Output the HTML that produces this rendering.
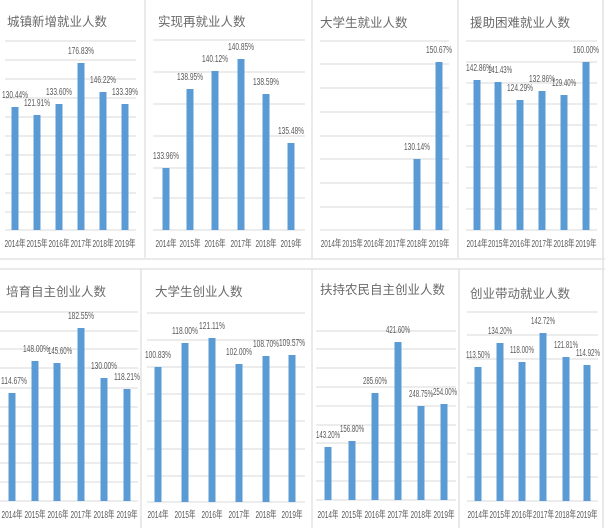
<!DOCTYPE html>
<html><head><meta charset="utf-8"><style>
html,body{margin:0;padding:0;background:#fff;}
svg{display:block;}
text{font-family:"Liberation Sans","Noto Sans CJK SC",sans-serif;fill:#595959;}
.t{font-size:12.5px;fill:#6a6a6a;}
.v{font-size:10px;text-anchor:middle;}
.y{font-size:10px;text-anchor:middle;}
.g line{stroke:#d9d9d9;stroke-width:1;}
.b rect{fill:#5b9bd5;}
.bd{stroke:#e3e3e3;stroke-width:1.5;}
</style></head><body>
<svg width="605" height="528" viewBox="0 0 605 528" xmlns="http://www.w3.org/2000/svg">
<line class="bd" x1="145" y1="0" x2="145" y2="258"/>
<line class="bd" x1="312" y1="0" x2="312" y2="258"/>
<line class="bd" x1="458" y1="0" x2="458" y2="258"/>
<line class="bd" x1="0" y1="259" x2="605" y2="259"/>
<line class="bd" x1="0" y1="269" x2="605" y2="269"/>
<line class="bd" x1="141" y1="269" x2="141" y2="528"/>
<line class="bd" x1="312" y1="269" x2="312" y2="528"/>
<line class="bd" x1="459" y1="269" x2="459" y2="528"/>
<line class="bd" x1="603" y1="0" x2="603" y2="528"/>

<!-- Panel 1 -->
<text class="t" x="7" y="26">城镇新增就业人数</text>
<g class="g">
<line x1="5" x2="136" y1="41" y2="41"/><line x1="5" x2="136" y1="60" y2="60"/><line x1="5" x2="136" y1="79" y2="79"/><line x1="5" x2="136" y1="98" y2="98"/><line x1="5" x2="136" y1="117" y2="117"/><line x1="5" x2="136" y1="136" y2="136"/><line x1="5" x2="136" y1="155" y2="155"/><line x1="5" x2="136" y1="174" y2="174"/><line x1="5" x2="136" y1="193" y2="193"/><line x1="5" x2="136" y1="212" y2="212"/><line x1="5" x2="136" y1="230" y2="230"/>
</g>
<g class="b">
<rect x="11.5" y="107" width="7" height="123"/><rect x="33.5" y="115" width="7" height="115"/><rect x="55.5" y="104" width="7" height="126"/><rect x="77.5" y="63" width="7" height="167"/><rect x="99.5" y="92" width="7" height="138"/><rect x="121.5" y="104" width="7" height="126"/>
</g>
<text class="v" x="15" y="98" textLength="26" lengthAdjust="spacingAndGlyphs">130.44%</text>
<text class="v" x="37" y="106" textLength="26" lengthAdjust="spacingAndGlyphs">121.91%</text>
<text class="v" x="59" y="95" textLength="26" lengthAdjust="spacingAndGlyphs">133.60%</text>
<text class="v" x="81" y="54" textLength="26" lengthAdjust="spacingAndGlyphs">176.83%</text>
<text class="v" x="103" y="83" textLength="26" lengthAdjust="spacingAndGlyphs">146.22%</text>
<text class="v" x="125" y="95" textLength="26" lengthAdjust="spacingAndGlyphs">133.39%</text>
<text class="y" x="15" y="247" textLength="21" lengthAdjust="spacingAndGlyphs">2014年</text>
<text class="y" x="37" y="247" textLength="21" lengthAdjust="spacingAndGlyphs">2015年</text>
<text class="y" x="59" y="247" textLength="21" lengthAdjust="spacingAndGlyphs">2016年</text>
<text class="y" x="81" y="247" textLength="21" lengthAdjust="spacingAndGlyphs">2017年</text>
<text class="y" x="103" y="247" textLength="21" lengthAdjust="spacingAndGlyphs">2018年</text>
<text class="y" x="125" y="247" textLength="21" lengthAdjust="spacingAndGlyphs">2019年</text>

<!-- Panel 2 -->
<text class="t" x="158" y="26">实现再就业人数</text>
<g class="g">
<line x1="153" x2="305" y1="40" y2="40"/><line x1="153" x2="305" y1="72" y2="72"/><line x1="153" x2="305" y1="104" y2="104"/><line x1="153" x2="305" y1="136" y2="136"/><line x1="153" x2="305" y1="168" y2="168"/><line x1="153" x2="305" y1="198" y2="198"/><line x1="153" x2="305" y1="230" y2="230"/>
</g>
<g class="b">
<rect x="162.5" y="168" width="7" height="62"/><rect x="186.5" y="89" width="7" height="141"/><rect x="211.5" y="71" width="7" height="159"/><rect x="237.5" y="59" width="7" height="171"/><rect x="262.5" y="94" width="7" height="136"/><rect x="287.5" y="143" width="7" height="87"/>
</g>
<text class="v" x="166" y="159" textLength="26" lengthAdjust="spacingAndGlyphs">133.96%</text>
<text class="v" x="190" y="80" textLength="26" lengthAdjust="spacingAndGlyphs">138.95%</text>
<text class="v" x="215" y="62" textLength="26" lengthAdjust="spacingAndGlyphs">140.12%</text>
<text class="v" x="241" y="50" textLength="26" lengthAdjust="spacingAndGlyphs">140.85%</text>
<text class="v" x="266" y="85" textLength="26" lengthAdjust="spacingAndGlyphs">138.59%</text>
<text class="v" x="291" y="134" textLength="26" lengthAdjust="spacingAndGlyphs">135.48%</text>
<text class="y" x="166" y="247" textLength="21" lengthAdjust="spacingAndGlyphs">2014年</text>
<text class="y" x="190" y="247" textLength="21" lengthAdjust="spacingAndGlyphs">2015年</text>
<text class="y" x="215" y="247" textLength="21" lengthAdjust="spacingAndGlyphs">2016年</text>
<text class="y" x="241" y="247" textLength="21" lengthAdjust="spacingAndGlyphs">2017年</text>
<text class="y" x="266" y="247" textLength="21" lengthAdjust="spacingAndGlyphs">2018年</text>
<text class="y" x="291" y="247" textLength="21" lengthAdjust="spacingAndGlyphs">2019年</text>

<!-- Panel 3 -->
<text class="t" x="320" y="27">大学生就业人数</text>
<g class="g">
<line x1="320" x2="449" y1="41" y2="41"/><line x1="320" x2="449" y1="64" y2="64"/><line x1="320" x2="449" y1="88" y2="88"/><line x1="320" x2="449" y1="112" y2="112"/><line x1="320" x2="449" y1="136" y2="136"/><line x1="320" x2="449" y1="159" y2="159"/><line x1="320" x2="449" y1="183" y2="183"/><line x1="320" x2="449" y1="207" y2="207"/><line x1="320" x2="449" y1="230" y2="230"/>
</g>
<g class="b">
<rect x="413.5" y="159" width="7" height="71"/><rect x="435.5" y="62" width="7" height="168"/>
</g>
<text class="v" x="417" y="150" textLength="26" lengthAdjust="spacingAndGlyphs">130.14%</text>
<text class="v" x="439" y="53" textLength="26" lengthAdjust="spacingAndGlyphs">150.67%</text>
<text class="y" x="331" y="247" textLength="20.5" lengthAdjust="spacingAndGlyphs">2014年</text>
<text class="y" x="352.5" y="247" textLength="20.5" lengthAdjust="spacingAndGlyphs">2015年</text>
<text class="y" x="374" y="247" textLength="20.5" lengthAdjust="spacingAndGlyphs">2016年</text>
<text class="y" x="395.5" y="247" textLength="20.5" lengthAdjust="spacingAndGlyphs">2017年</text>
<text class="y" x="417" y="247" textLength="20.5" lengthAdjust="spacingAndGlyphs">2018年</text>
<text class="y" x="439" y="247" textLength="20.5" lengthAdjust="spacingAndGlyphs">2019年</text>

<!-- Panel 4 -->
<text class="t" x="470" y="27">援助困难就业人数</text>
<g class="g">
<line x1="466" x2="597" y1="41" y2="41"/><line x1="466" x2="597" y1="62" y2="62"/><line x1="466" x2="597" y1="83" y2="83"/><line x1="466" x2="597" y1="104" y2="104"/><line x1="466" x2="597" y1="125" y2="125"/><line x1="466" x2="597" y1="146" y2="146"/><line x1="466" x2="597" y1="167" y2="167"/><line x1="466" x2="597" y1="188" y2="188"/><line x1="466" x2="597" y1="209" y2="209"/><line x1="466" x2="597" y1="230" y2="230"/>
</g>
<g class="b">
<rect x="473.5" y="80" width="7" height="150"/><rect x="494.5" y="82" width="7" height="148"/><rect x="516.5" y="100" width="7" height="130"/><rect x="538.5" y="91" width="7" height="139"/><rect x="560.5" y="95" width="7" height="135"/><rect x="582.5" y="62" width="7" height="168"/>
</g>
<text class="v" x="479" y="71" textLength="26" lengthAdjust="spacingAndGlyphs">142.86%</text>
<text class="v" x="500" y="73" textLength="24" lengthAdjust="spacingAndGlyphs">141.43%</text>
<text class="v" x="520" y="91" textLength="26" lengthAdjust="spacingAndGlyphs">124.29%</text>
<text class="v" x="542" y="82" textLength="26" lengthAdjust="spacingAndGlyphs">132.86%</text>
<text class="v" x="564" y="86" textLength="24" lengthAdjust="spacingAndGlyphs">129.40%</text>
<text class="v" x="586" y="53" textLength="26" lengthAdjust="spacingAndGlyphs">160.00%</text>
<text class="y" x="477" y="247" textLength="21" lengthAdjust="spacingAndGlyphs">2014年</text>
<text class="y" x="498.5" y="247" textLength="21" lengthAdjust="spacingAndGlyphs">2015年</text>
<text class="y" x="520" y="247" textLength="21" lengthAdjust="spacingAndGlyphs">2016年</text>
<text class="y" x="542" y="247" textLength="21" lengthAdjust="spacingAndGlyphs">2017年</text>
<text class="y" x="564" y="247" textLength="21" lengthAdjust="spacingAndGlyphs">2018年</text>
<text class="y" x="586" y="247" textLength="21" lengthAdjust="spacingAndGlyphs">2019年</text>

<!-- Panel 5 -->
<text class="t" x="6" y="296">培育自主创业人数</text>
<g class="g">
<line x1="0" x2="138" y1="312" y2="312"/><line x1="0" x2="138" y1="331" y2="331"/><line x1="0" x2="138" y1="349" y2="349"/><line x1="0" x2="138" y1="368" y2="368"/><line x1="0" x2="138" y1="388" y2="388"/><line x1="0" x2="138" y1="407" y2="407"/><line x1="0" x2="138" y1="426" y2="426"/><line x1="0" x2="138" y1="444" y2="444"/><line x1="0" x2="138" y1="463" y2="463"/><line x1="0" x2="138" y1="482" y2="482"/><line x1="0" x2="138" y1="501" y2="501"/>
</g>
<g class="b">
<rect x="8.5" y="393" width="7" height="108"/><rect x="31.5" y="361" width="7" height="140"/><rect x="53.5" y="363" width="7" height="138"/><rect x="77.5" y="328" width="7" height="173"/><rect x="100.5" y="378" width="7" height="123"/><rect x="123.5" y="389" width="7" height="112"/>
</g>
<text class="v" x="14" y="384" textLength="26" lengthAdjust="spacingAndGlyphs">114.67%</text>
<text class="v" x="36" y="352" textLength="26" lengthAdjust="spacingAndGlyphs">148.00%</text>
<text class="v" x="60" y="354" textLength="24" lengthAdjust="spacingAndGlyphs">145.60%</text>
<text class="v" x="81" y="319" textLength="26" lengthAdjust="spacingAndGlyphs">182.55%</text>
<text class="v" x="104" y="369" textLength="26" lengthAdjust="spacingAndGlyphs">130.00%</text>
<text class="v" x="127" y="380" textLength="26" lengthAdjust="spacingAndGlyphs">118.21%</text>
<text class="y" x="12" y="518" textLength="21" lengthAdjust="spacingAndGlyphs">2014年</text>
<text class="y" x="35" y="518" textLength="21" lengthAdjust="spacingAndGlyphs">2015年</text>
<text class="y" x="58" y="518" textLength="21" lengthAdjust="spacingAndGlyphs">2016年</text>
<text class="y" x="81" y="518" textLength="21" lengthAdjust="spacingAndGlyphs">2017年</text>
<text class="y" x="104" y="518" textLength="21" lengthAdjust="spacingAndGlyphs">2018年</text>
<text class="y" x="127" y="518" textLength="21" lengthAdjust="spacingAndGlyphs">2019年</text>

<!-- Panel 6 -->
<text class="t" x="155" y="296">大学生创业人数</text>
<g class="g">
<line x1="147" x2="305" y1="313" y2="313"/><line x1="147" x2="305" y1="340" y2="340"/><line x1="147" x2="305" y1="367" y2="367"/><line x1="147" x2="305" y1="394" y2="394"/><line x1="147" x2="305" y1="421" y2="421"/><line x1="147" x2="305" y1="449" y2="449"/><line x1="147" x2="305" y1="476" y2="476"/><line x1="147" x2="305" y1="502" y2="502"/>
</g>
<g class="b">
<rect x="154.5" y="367" width="7" height="135"/><rect x="181.5" y="343" width="7" height="159"/><rect x="208.5" y="338" width="7" height="164"/><rect x="235.5" y="364" width="7" height="138"/><rect x="262.5" y="356" width="7" height="146"/><rect x="288.5" y="355" width="7" height="147"/>
</g>
<text class="v" x="158" y="358" textLength="26" lengthAdjust="spacingAndGlyphs">100.83%</text>
<text class="v" x="185" y="334" textLength="26" lengthAdjust="spacingAndGlyphs">118.00%</text>
<text class="v" x="212" y="329" textLength="26" lengthAdjust="spacingAndGlyphs">121.11%</text>
<text class="v" x="239" y="355" textLength="26" lengthAdjust="spacingAndGlyphs">102.00%</text>
<text class="v" x="266" y="347" textLength="26" lengthAdjust="spacingAndGlyphs">108.70%</text>
<text class="v" x="292" y="346" textLength="26" lengthAdjust="spacingAndGlyphs">109.57%</text>
<text class="y" x="158" y="518" textLength="21" lengthAdjust="spacingAndGlyphs">2014年</text>
<text class="y" x="185" y="518" textLength="21" lengthAdjust="spacingAndGlyphs">2015年</text>
<text class="y" x="212" y="518" textLength="21" lengthAdjust="spacingAndGlyphs">2016年</text>
<text class="y" x="239" y="518" textLength="21" lengthAdjust="spacingAndGlyphs">2017年</text>
<text class="y" x="266" y="518" textLength="21" lengthAdjust="spacingAndGlyphs">2018年</text>
<text class="y" x="292" y="518" textLength="21" lengthAdjust="spacingAndGlyphs">2019年</text>

<!-- Panel 7 -->
<text class="t" x="320" y="294">扶持农民自主创业人数</text>
<g class="g">
<line x1="316" x2="456" y1="331" y2="331"/><line x1="316" x2="456" y1="349" y2="349"/><line x1="316" x2="456" y1="368" y2="368"/><line x1="316" x2="456" y1="387" y2="387"/><line x1="316" x2="456" y1="406" y2="406"/><line x1="316" x2="456" y1="425" y2="425"/><line x1="316" x2="456" y1="443" y2="443"/><line x1="316" x2="456" y1="462" y2="462"/><line x1="316" x2="456" y1="481" y2="481"/><line x1="316" x2="456" y1="500" y2="500"/>
</g>
<g class="b">
<rect x="324.5" y="447" width="7" height="53"/><rect x="348.5" y="441" width="7" height="59"/><rect x="371.5" y="393" width="7" height="107"/><rect x="394.5" y="342" width="7" height="158"/><rect x="417.5" y="406" width="7" height="94"/><rect x="440.5" y="404" width="7" height="96"/>
</g>
<text class="v" x="328" y="438" textLength="24" lengthAdjust="spacingAndGlyphs">143.20%</text>
<text class="v" x="352" y="432" textLength="24" lengthAdjust="spacingAndGlyphs">156.80%</text>
<text class="v" x="375" y="384" textLength="24" lengthAdjust="spacingAndGlyphs">285.60%</text>
<text class="v" x="398" y="333" textLength="24" lengthAdjust="spacingAndGlyphs">421.60%</text>
<text class="v" x="421" y="397" textLength="24" lengthAdjust="spacingAndGlyphs">248.75%</text>
<text class="v" x="445" y="395" textLength="24" lengthAdjust="spacingAndGlyphs">254.00%</text>
<text class="y" x="328" y="518" textLength="21" lengthAdjust="spacingAndGlyphs">2014年</text>
<text class="y" x="352" y="518" textLength="21" lengthAdjust="spacingAndGlyphs">2015年</text>
<text class="y" x="375" y="518" textLength="21" lengthAdjust="spacingAndGlyphs">2016年</text>
<text class="y" x="398" y="518" textLength="21" lengthAdjust="spacingAndGlyphs">2017年</text>
<text class="y" x="421" y="518" textLength="21" lengthAdjust="spacingAndGlyphs">2018年</text>
<text class="y" x="444" y="518" textLength="21" lengthAdjust="spacingAndGlyphs">2019年</text>

<!-- Panel 8 -->
<text class="t" x="470" y="298">创业带动就业人数</text>
<g class="g">
<line x1="467" x2="598" y1="312" y2="312"/><line x1="467" x2="598" y1="335" y2="335"/><line x1="467" x2="598" y1="359" y2="359"/><line x1="467" x2="598" y1="383" y2="383"/><line x1="467" x2="598" y1="407" y2="407"/><line x1="467" x2="598" y1="430" y2="430"/><line x1="467" x2="598" y1="454" y2="454"/><line x1="467" x2="598" y1="477" y2="477"/><line x1="467" x2="598" y1="501" y2="501"/>
</g>
<g class="b">
<rect x="474.5" y="367" width="7" height="134"/><rect x="496.5" y="343" width="7" height="158"/><rect x="518.5" y="362" width="7" height="139"/><rect x="539.5" y="333" width="7" height="168"/><rect x="562.5" y="357" width="7" height="144"/><rect x="583.5" y="365" width="7" height="136"/>
</g>
<text class="v" x="478" y="358" textLength="24" lengthAdjust="spacingAndGlyphs">113.50%</text>
<text class="v" x="500" y="334" textLength="24" lengthAdjust="spacingAndGlyphs">134.20%</text>
<text class="v" x="522" y="353" textLength="24" lengthAdjust="spacingAndGlyphs">118.00%</text>
<text class="v" x="543" y="324" textLength="24" lengthAdjust="spacingAndGlyphs">142.72%</text>
<text class="v" x="566" y="348" textLength="24" lengthAdjust="spacingAndGlyphs">121.81%</text>
<text class="v" x="588" y="356" textLength="24" lengthAdjust="spacingAndGlyphs">114.92%</text>
<text class="y" x="478" y="518" textLength="21" lengthAdjust="spacingAndGlyphs">2014年</text>
<text class="y" x="500" y="518" textLength="21" lengthAdjust="spacingAndGlyphs">2015年</text>
<text class="y" x="522" y="518" textLength="21" lengthAdjust="spacingAndGlyphs">2016年</text>
<text class="y" x="543.5" y="518" textLength="21" lengthAdjust="spacingAndGlyphs">2017年</text>
<text class="y" x="565.5" y="518" textLength="21" lengthAdjust="spacingAndGlyphs">2018年</text>
<text class="y" x="587" y="518" textLength="21" lengthAdjust="spacingAndGlyphs">2019年</text>
</svg>
</body></html>
